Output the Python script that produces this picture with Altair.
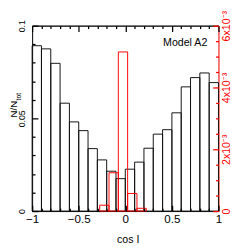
import altair as alt
import pandas as pd

# ---- data ----
black_lefts = [-1.0, -0.9, -0.8, -0.7, -0.6, -0.5, -0.4, -0.3, -0.2, -0.1,
               0.0, 0.1, 0.2, 0.3, 0.4, 0.5, 0.6, 0.7, 0.8, 0.9]
black_vals = [0.0892, 0.0875, 0.0797, 0.0582, 0.0481, 0.0434, 0.0337, 0.0276, 0.0215, 0.0175,
              0.0226, 0.0264, 0.0339, 0.0415, 0.0439, 0.0530, 0.0670, 0.0720, 0.0745, 0.0693]
red_lefts = [-0.275, -0.175, -0.075, 0.025, 0.125]
red_vals = [0.00019, 0.00124, 0.00515, 0.00057, 0.00009]
bin_width = 0.1

x_major = [-1, -0.5, 0, 0.5, 1]
x_minor = [-0.9, -0.8, -0.7, -0.6, -0.4, -0.3, -0.2, -0.1,
           0.1, 0.2, 0.3, 0.4, 0.6, 0.7, 0.8, 0.9]
yl_major = [0, 0.05, 0.1]
yl_minor = [0.01, 0.02, 0.03, 0.04, 0.06, 0.07, 0.08, 0.09]
yr_major = [0, 0.002, 0.004, 0.006]
yr_minor = [0.0005, 0.001, 0.0015, 0.0025, 0.003, 0.0035, 0.0045, 0.005, 0.0055]

W, H = 193, 192
FONT = "Liberation Sans"
MAJ, MIN = 6, 3

df_black = pd.DataFrame({"lo": black_lefts, "v": black_vals})
df_black["hi"] = df_black["lo"] + bin_width
df_red = pd.DataFrame({"lo": red_lefts, "v": red_vals})
df_red["hi"] = df_red["lo"] + bin_width

xs = alt.Scale(domain=[-1, 1], nice=False, zero=False)
yl = alt.Scale(domain=[0, 0.1], nice=False, zero=False)
yr = alt.Scale(domain=[0, 0.006], nice=False, zero=False)

TITLE = dict(titleFont=FONT, titleFontWeight="normal", titleColor="black",
             titleAlign="center")


def tick_axis(orient, values, size, color="black", **kw):
    opts = dict(orient=orient, values=values, ticks=True, tickSize=size,
                tickColor=color, tickWidth=1.3, tickOpacity=1, labels=False,
                domain=False, grid=False, offset=-size, zindex=2)
    if "title" not in kw:
        opts["title"] = None
    opts.update(kw)
    return alt.Axis(**opts)


x_main = alt.Axis(orient="bottom", values=x_major, format="~g", ticks=False, grid=False,
                  labelFontSize=12, labelPadding=3, labelFlush=False,
                  labelOverlap=False, domainColor="black", domainWidth=1,
                  labelColor="black", labelFont=FONT,
                  title="cos I", titleFontSize=11, titleX=99, titleY=30,
                  titleBaseline="middle", titleAngle=0, **TITLE)
yl_main = alt.Axis(orient="left", values=yl_major, format="~g", ticks=False, grid=False,
                   labelAngle=-90, labelAlign="center", labelBaseline="bottom",
                   labelPadding=6, labelFontSize=9, labelFlush=False, labelOverlap=False,
                   domainColor="black", domainWidth=1, labelColor="black", labelFont=FONT,
                   title="N/N", titleFontSize=10, titleAngle=270, titleX=-19, titleY=86,
                   titleBaseline="middle", **TITLE)
yr_main = alt.Axis(orient="right", values=yr_major, ticks=False, grid=False,
                   labelExpr="datum.value == 0 ? '0' : format(datum.value * 1000, '.0f') + 'x10⁻³'",
                   labelAngle=-90, labelAlign="center", labelBaseline="top",
                   labelPadding=2, labelFontSize=11, labelFlush=False, labelOverlap=False,
                   domainColor="red", domainWidth=1, labelColor="red", labelFont=FONT,
                   title="Model A2", titleFontSize=11, titleAngle=0, titleX=-35, titleY=21,
                   titleBaseline="alphabetic", **TITLE)
x_top_border = alt.Axis(orient="top", values=x_major, ticks=False, labels=False, grid=False,
                        domain=True, domainColor="black", domainWidth=1.3, title=None,
                        zindex=2)


def bars(df, color, x_axis, y_scale, y_axis, opacity=1):
    return alt.Chart(df).mark_bar(filled=False, color=color, strokeWidth=1,
                                  opacity=opacity).encode(
        x=alt.X("lo:Q", scale=xs, axis=x_axis),
        x2="hi:Q",
        y=alt.Y("v:Q", scale=y_scale, axis=y_axis),
        y2=alt.datum(0),
    )


black = bars(df_black, "#111111", x_main, yl, yl_main)
red = bars(df_red, "red",
           tick_axis("bottom", x_major, MAJ, title="tot", titleFontSize=7, titleAngle=270,
                     titleX=-14.5, titleY=73 - (H - MAJ), titleBaseline="middle", **TITLE),
           yr, yr_main)
g3 = bars(df_black, "black", tick_axis("bottom", x_minor, MIN), yl,
          tick_axis("left", yl_major, MAJ), opacity=0)
g4 = bars(df_black, "black", tick_axis("top", x_major, MAJ), yl,
          tick_axis("left", yl_minor, MIN), opacity=0)
g5 = bars(df_red, "red", tick_axis("top", x_minor, MIN), yr,
          tick_axis("right", yr_major, MAJ, "red"), opacity=0)
g6 = bars(df_red, "red", x_top_border, yr,
          tick_axis("right", yr_minor, MIN, "red"), opacity=0)

chart = alt.layer(g3, g4, g5, g6, black, red).resolve_scale(y="independent").resolve_axis(
    x="independent", y="independent").properties(
    width=W, height=H,
    autosize=alt.AutoSizeParams(type="none"),
    padding={"left": 25, "top": 14, "right": 14, "bottom": 36},
).configure_view(stroke=None).configure(font=FONT)

chart.save("out.html", embed_options={"renderer": "svg", "actions": False})
